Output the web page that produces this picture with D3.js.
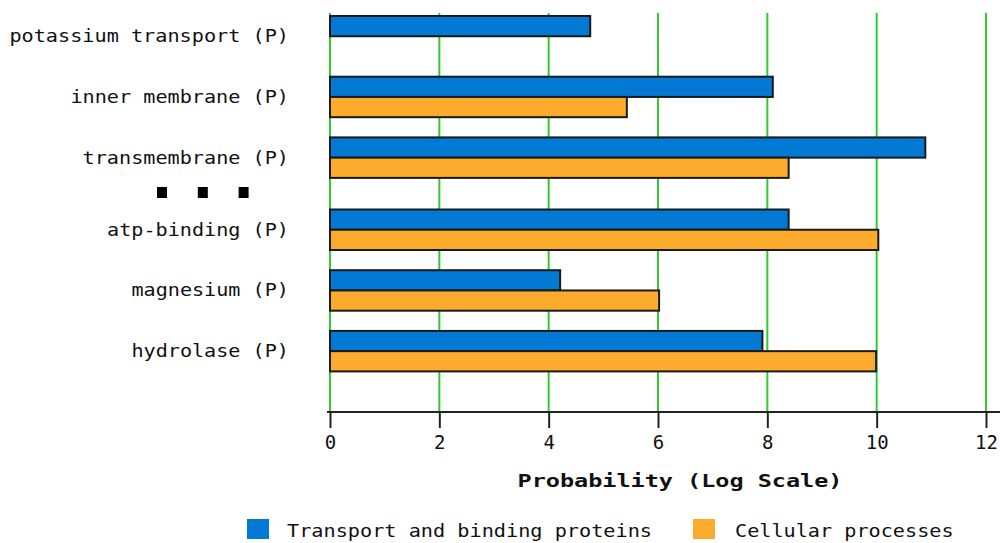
<!DOCTYPE html>
<html>
<head>
<meta charset="utf-8">
<script src="https://cdn.jsdelivr.net/npm/d3@7/dist/d3.min.js"></script>
<style>
  html, body { margin: 0; padding: 0; background: #fff; }
  svg { display: block; }
  text { font-family: "DejaVu Sans Mono", "Liberation Mono", monospace; fill: #111; }
</style>
</head>
<body>
<svg id="chart" width="1000" height="543"></svg>
<script>
// ---- data ----
const categories = ["potassium transport (P)", "inner membrane (P)", "transmembrane (P)",
                    "atp-binding (P)", "magnesium (P)", "hydrolase (P)"];
const seriesNames = ["Transport and binding proteins", "Cellular processes"];
const transportValues = [4.76, 8.10, 10.89, 8.39, 4.21, 7.91];
const cellularValues  = [0, 5.43, 8.39, 10.03, 6.02, 9.99];
const tickValues = [0, 2, 4, 6, 8, 10, 12];
const seriesColors = ["#0179d5", "#fdab2c"];
const xTitle = "Probability (Log Scale)";
const breakAfter = 3; // an ellipsis row sits before this category index

// ---- layout ----
const svg = d3.select("#chart");
const x = d3.scaleLinear().domain([0, 12]).range([330, 986]);
const y = d3.scaleBand().domain(categories).range([16, 360]).paddingInner(0.333).paddingOuter(0);
const gapExtra = 11.4;
const yPos = (c) => y(c) + (categories.indexOf(c) >= breakAfter ? gapExtra : 0);
const ySub = d3.scaleBand().domain(seriesNames).range([0, y.bandwidth()]);
const color = d3.scaleOrdinal().domain(seriesNames).range(seriesColors);

const plotTop = 13, plotBottom = 412;
const charW = 12.2; // advance of the wide monospace face in the reference
const wide = (sel) => sel
  .attr("textLength", function () { return this.textContent.length * charW - 1; })
  .attr("lengthAdjust", "spacingAndGlyphs");

// grid
svg.append("g").selectAll("line").data(tickValues).join("line")
  .attr("x1", d => x(d)).attr("x2", d => x(d))
  .attr("y1", plotTop).attr("y2", plotBottom)
  .attr("stroke", "#2ecc2e").attr("stroke-width", 2);

// bars
const rows = categories.map((c, i) => ({
  cat: c,
  vals: [
    { s: seriesNames[0], v: transportValues[i] },
    { s: seriesNames[1], v: cellularValues[i] }
  ]
}));
const groups = svg.append("g").selectAll("g").data(rows).join("g")
  .attr("transform", d => `translate(0,${yPos(d.cat)})`);
groups.selectAll("rect").data(d => d.vals).join("rect")
  .attr("x", x(0))
  .attr("y", d => ySub(d.s))
  .attr("width", d => x(d.v) - x(0))
  .attr("height", ySub.bandwidth())
  .attr("fill", d => color(d.s))
  .attr("stroke", "#1a1a1a")
  .attr("stroke-width", 2);

// category labels
svg.append("g").selectAll("text").data(categories).join("text")
  .attr("x", 289)
  .attr("y", c => yPos(c) + y.bandwidth() / 2 + 1)
  .attr("text-anchor", "end")
  .attr("dominant-baseline", "middle")
  .attr("font-size", 18)
  .text(c => c)
  .call(wide);

// ellipsis marker
const ellY = 187;
svg.append("g").selectAll("rect").data([0, 1, 2]).join("rect")
  .attr("x", d => 157 + d * 40.8).attr("y", ellY)
  .attr("width", 10).attr("height", 11).attr("fill", "#000");

// x axis
const axis = d3.axisBottom(x).tickValues(tickValues).tickSize(16).tickPadding(8).tickFormat(d3.format("d"));
const gx = svg.append("g").attr("transform", `translate(0,${plotBottom})`).call(axis);
gx.select(".domain").attr("d", `M${x(0) - 3},0H1000`).attr("stroke", "#222").attr("stroke-width", 2);
gx.selectAll(".tick line").attr("stroke", "#222").attr("stroke-width", 2);
gx.selectAll(".tick text").attr("font-family", "DejaVu Sans Mono").attr("font-size", 19).attr("fill", "#111");

svg.append("text")
  .attr("x", 680).attr("y", 487)
  .attr("text-anchor", "middle")
  .attr("font-size", 17).attr("font-weight", "bold")
  .attr("textLength", 325).attr("lengthAdjust", "spacingAndGlyphs")
  .text(xTitle);

// legend
const legendX = [247, 693];
const lg = svg.append("g").selectAll("g").data(seriesNames).join("g")
  .attr("transform", (d, i) => `translate(${legendX[i]},519)`);
lg.append("rect").attr("width", 22).attr("height", 20).attr("fill", d => color(d));
lg.append("text").attr("x", (d, i) => i === 0 ? 40 : 42).attr("y", 18)
  .attr("font-size", 18)
  .text(d => d)
  .call(wide);
</script>
</body>
</html>
